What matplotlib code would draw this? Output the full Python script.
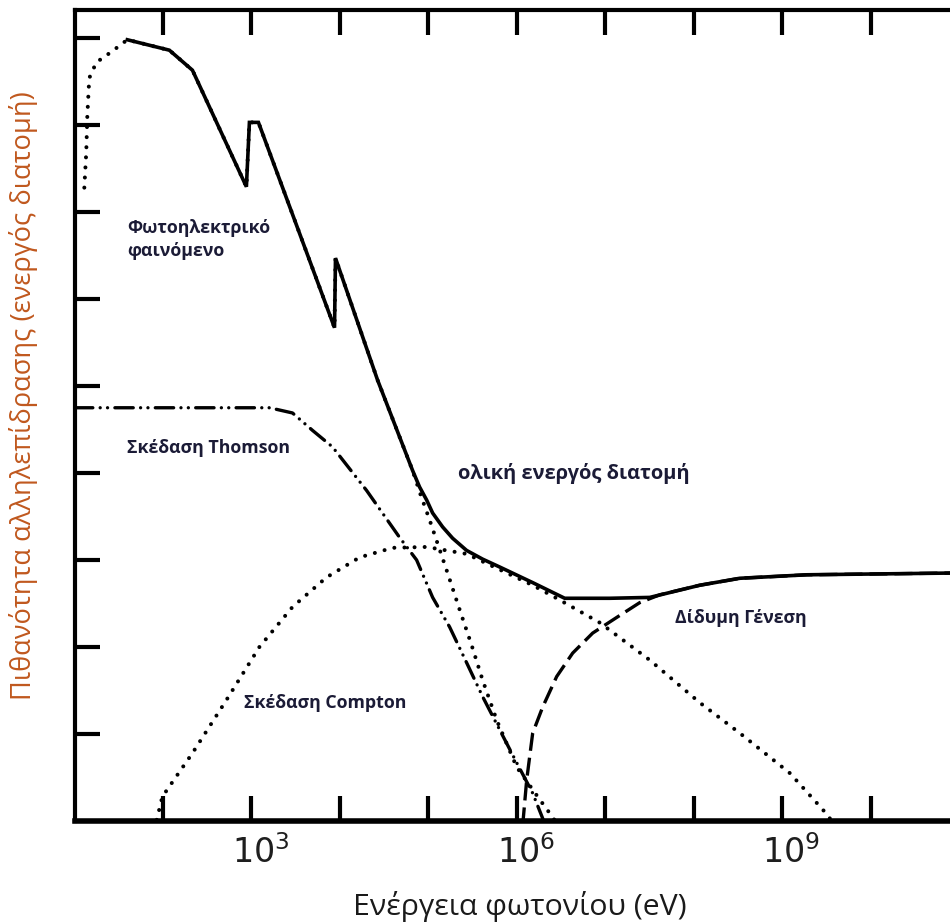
import numpy as np
import matplotlib
matplotlib.use("Agg")
import matplotlib.pyplot as plt
import matplotlib.transforms as mtransforms
from matplotlib import font_manager
from matplotlib.ticker import NullLocator

# energies as log10(E / eV), cross section in arbitrary units (tick = 1)
total_logE = [1.597, 2.072, 2.333, 2.943, 2.977, 3.079, 3.939, 3.950, 4.425, 4.821, 4.90, 4.980,
              5.048, 5.161, 5.274, 5.432, 5.613, 5.805, 6.179, 6.541, 7.050, 7.502, 8.068,
              8.520, 9.278, 10.90]
total_sigma = [8.98, 8.86, 8.63, 7.29, 8.03, 8.03, 5.67, 6.47, 5.07, 4.03, 3.84, 3.69,
               3.54, 3.38, 3.25, 3.11, 3.01, 2.92, 2.74, 2.56, 2.56, 2.57, 2.71,
               2.79, 2.83, 2.85]

photo_logE = [1.111, 1.133, 1.145, 1.167, 1.247, 1.416, 1.597, 2.072, 2.333, 2.943, 2.977, 3.079,
              3.939, 3.950, 4.425, 4.821, 4.912, 5.014, 5.217, 5.353, 5.489, 5.613, 5.772, 5.998,
              6.235, 6.371, 6.44]
photo_sigma = [7.28, 7.69, 8.11, 8.54, 8.72, 8.84, 8.98, 8.86, 8.63, 7.29, 8.03, 8.03,
               5.67, 6.47, 5.07, 4.03, 3.75, 3.46, 2.85, 2.43, 2.02, 1.62, 1.16, 0.62,
               0.28, 0.09, -0.01]

compton_logE = [1.903, 1.993, 2.333, 2.717, 3.090, 3.464, 3.848, 4.222, 4.595, 4.980, 5.432,
                5.805, 6.179, 6.450, 6.937, 7.502, 8.068, 8.520, 9.086, 9.459, 9.561]
compton_sigma = [-0.1, 0.28, 0.78, 1.39, 2.00, 2.46, 2.80, 3.03, 3.14, 3.15, 3.07,
                 2.89, 2.71, 2.56, 2.28, 1.85, 1.36, 1.01, 0.55, 0.13, 0.0]

thomson_logE = [1.0, 3.204, 3.464, 3.69, 3.916, 4.301, 4.674, 4.867, 5.048, 5.240, 5.432,
                5.613, 5.805, 5.998, 6.179, 6.292, 6.32]
thomson_sigma = [4.75, 4.75, 4.69, 4.49, 4.30, 3.80, 3.26, 3.00, 2.57, 2.23, 1.82,
                 1.43, 1.05, 0.67, 0.32, 0.03, -0.05]

pair_logE = [6.066, 6.111, 6.179, 6.292, 6.450, 6.631, 6.857, 7.129, 7.389, 7.615,
             8.068, 8.520, 9.278, 10.90]
pair_sigma = [-0.05, 0.47, 1.01, 1.31, 1.66, 1.93, 2.16, 2.34, 2.51, 2.60,
              2.71, 2.79, 2.83, 2.85]

tick_exp = [2, 3, 4, 5, 6, 7, 8, 9, 10]
tick_labels = ["", "$10^3$", "", "", "$10^6$", "", "", "$10^9$", ""]
ytick_vals = [1, 2, 3, 4, 5, 6, 7, 8, 9]

names = {f.name for f in font_manager.fontManager.ttflist}
if "Liberation Sans Narrow" in names:
    label_font, xlabel_size, ylabel_size = "Liberation Sans Narrow", 24, 22
else:
    label_font, xlabel_size, ylabel_size = "Open Sans", 21.8, 19.6

plt.rcParams["mathtext.fontset"] = "custom"
plt.rcParams["mathtext.rm"] = "Liberation Sans"
plt.rcParams["mathtext.it"] = "Liberation Sans"
plt.rcParams["mathtext.default"] = "regular"

W, H = 950, 923
fig = plt.figure(figsize=(W / 100, H / 100), dpi=100)
ax = fig.add_axes([74.5 / W, (H - 821) / H, (W - 74.5) / W, (821 - 10) / H])

E = lambda v: 10 ** np.array(v)

ax.plot(E(photo_logE), photo_sigma, color="k", lw=2.9, ls=(0, (0.01, 2.5)),
        dash_capstyle="round", zorder=2)
ax.plot(E(compton_logE), compton_sigma, color="k", lw=2.9, ls=(0, (0.01, 2.5)),
        dash_capstyle="round", zorder=2)
ax.plot(E(thomson_logE), thomson_sigma, color="k", lw=2.4,
        ls=(0, (5.5, 2.2, 0.01, 2.2, 0.01, 2.2)), dash_capstyle="round", zorder=2)
ax.plot(E(pair_logE), pair_sigma, color="k", lw=2.4, ls=(0, (5.4, 2.1)), zorder=2)
ax.plot(E(total_logE), total_sigma, color="k", lw=2.6, solid_joinstyle="miter", zorder=3)

ax.set_xscale("log")
ax.set_xlim(10 ** 1.0, 10 ** 10.896)
ax.set_ylim(0, (821 - 10) / 87)
ax.xaxis.set_minor_locator(NullLocator())
ax.set_xticks([10 ** k for k in tick_exp])
ax.set_xticklabels(tick_labels)
ax.set_yticks(ytick_vals)
ax.set_yticklabels([])

ax.tick_params(axis="x", direction="in", length=18, width=3, top=True, bottom=True,
               labelsize=24, labelcolor="#1e1e1e", pad=10)
ax.tick_params(axis="y", direction="in", length=18, width=3, left=True, right=False)
# labels in the original sit a little right of their ticks
shift = mtransforms.ScaledTranslation(9 / 100, 0, fig.dpi_scale_trans)
for lab in ax.get_xticklabels():
    lab.set_transform(lab.get_transform() + shift)

for s in ["left", "top"]:
    ax.spines[s].set_linewidth(3)
ax.spines["bottom"].set_linewidth(4)
ax.spines["right"].set_visible(False)

txt = dict(fontfamily="Open Sans", fontweight="bold", fontsize=12.8, color="#1b1b36",
           ha="left", va="center")
ax.text(10 ** 1.597, 6.68, "Φωτοηλεκτρικό\nφαινόμενο", linespacing=1.35, **txt)
ax.text(10 ** 1.597, 4.29, "Σκέδαση Thomson", **txt)
ax.text(10 ** 2.921, 1.36, "Σκέδαση Compton", **txt)
ax.text(10 ** 5.330, 3.99, "ολική ενεργός διατομή", **{**txt, "fontsize": 14.4})
ax.text(10 ** 7.785, 2.33, "Δίδυμη Γένεση", **txt)

fig.text(520 / W, 1 - 906 / H, "Ενέργεια φωτονίου (eV)", ha="center", va="center",
         fontfamily=label_font, fontsize=xlabel_size, color="#1a1a1a")
fig.text(24 / W, 1 - 396 / H, "Πιθανότητα αλληλεπίδρασης (ενεργός διατομή)", ha="center",
         va="center", rotation=90, fontfamily=label_font, fontsize=ylabel_size, color="#c0581e")

fig.savefig("out.png", dpi=100)
